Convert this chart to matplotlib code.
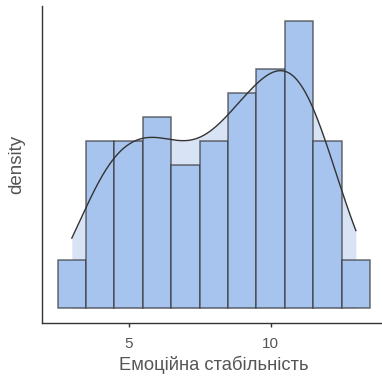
import numpy as np
import matplotlib
matplotlib.use("Agg")
import matplotlib.pyplot as plt

plt.rcParams['font.family'] = ['Liberation Sans', 'DejaVu Sans']

# Data: integer scores and their counts
values = [3, 4, 5, 6, 7, 8, 9, 10, 11, 12, 13]
counts = [2, 7, 7, 8, 6, 7, 9, 10, 12, 7, 2]
xlabel = "Емоційна стабільність"
ylabel = "density"
xticks = [5, 10]

data = np.repeat(values, counts).astype(float)
n = len(data)
dens = np.array(counts) / n  # bin width 1

# KDE with R's nrd0 bandwidth, evaluated on data range
sd = data.std(ddof=1)
q1, q3 = np.percentile(data, [25, 75])
bw = 0.9 * min(sd, (q3 - q1) / 1.34) * n ** (-0.2)
xs = np.linspace(data.min(), data.max(), 512)
kde = np.exp(-0.5 * ((xs[:, None] - data[None, :]) / bw) ** 2).sum(axis=1) / (n * bw * np.sqrt(2 * np.pi))

fig = plt.figure(figsize=(3.82, 3.81), dpi=100)
ax = fig.add_axes([42 / 382, 1 - 322.7 / 381, (385.7 - 42) / 382, (322.7 - 6.3) / 381])

ax.fill_between(xs, kde, color="#D8E3F6", zorder=1, lw=0)
ax.bar(values, dens, width=1.0, color="#A7C4EE", edgecolor=(0.2, 0.2, 0.2, 0.7), linewidth=1.1, zorder=2)
ax.plot(xs, kde, color="#333333", lw=1.0, zorder=3)

ymax = max(dens.max(), kde.max())
ax.set_ylim(-0.05 * ymax, 1.05 * ymax)
ax.set_xlim(1.95, 14.05)
ax.set_xticks(xticks)
ax.set_yticks([])
for s in ["top", "right"]:
    ax.spines[s].set_visible(False)
for s in ["left", "bottom"]:
    ax.spines[s].set_color("#333333")
    ax.spines[s].set_linewidth(1.0)
ax.tick_params(axis="x", colors="#333333", labelcolor="#555555", labelsize=11, length=3, width=1, pad=7)
ax.set_xlabel(xlabel, fontsize=13.2, color="#555555", labelpad=4)
ax.set_ylabel(ylabel, fontsize=13.5, color="#555555", labelpad=12)

fig.savefig("out.png", dpi=100, facecolor="white")
